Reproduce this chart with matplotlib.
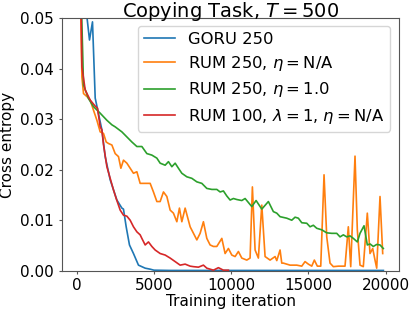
import numpy as np
import matplotlib
matplotlib.use("Agg")
import matplotlib.pyplot as plt

# GORU 250
goru_x = [0, 600, 828, 1022, 1197, 1630, 1843, 2167, 2600, 2924, 3027, 3202, 3415,
          3674, 3997, 4431, 4755, 5000, 6000, 8000, 10000, 12000, 14000, 16000, 18000, 19850]
goru_y = [0.2, 0.052, 0.0457, 0.0493, 0.0342, 0.0279, 0.0226, 0.018, 0.014, 0.0124, 0.0122,
          0.0087, 0.0051, 0.0034, 0.0011, 0.0005, 0.0003, 0.0001, 0.00005, 0.00005, 0.00005,
          0.00005, 0.00005, 0.00005, 0.00005, 0.00005]

# RUM 250, eta = N/A
rum_na_x = [0, 150, 336, 440, 660, 873, 1087, 1307, 1520, 1733, 1908, 2057, 2277, 2490,
            2704, 2859, 3027, 3247, 3460, 3674, 3894, 4107, 4431, 4754, 4967, 5187, 5401,
            5615, 5834, 6048, 6261, 6481, 6649, 6804, 7018, 7341, 7775, 7988, 8201, 8421,
            8634, 8848, 9068, 9392, 9605, 9818, 10038, 10252, 10465, 10685, 11008, 11222,
            11371, 11546, 11759, 11979, 12192, 12516, 12839, 12949, 13162, 13272, 13376,
            13809, 14243, 14566, 14779, 14993, 15213, 15381, 15575, 15795, 16008, 16183,
            16396, 16610, 16933, 17366, 17580, 17735, 18013, 18162, 18337, 18550, 18809,
            18984, 19158, 19307, 19417, 19631, 19805]
rum_na_y = [0.2, 0.07, 0.0384, 0.0351, 0.0345, 0.0338, 0.0318, 0.0298, 0.0275, 0.0272,
            0.0255, 0.0252, 0.0249, 0.0232, 0.0226, 0.0203, 0.0219, 0.0213, 0.0203, 0.0193,
            0.0196, 0.0173, 0.0173, 0.0173, 0.0156, 0.0137, 0.0137, 0.0156, 0.0147, 0.012,
            0.0114, 0.0097, 0.0124, 0.0097, 0.0124, 0.0087, 0.0061, 0.0074, 0.0097, 0.0064,
            0.0051, 0.0048, 0.0048, 0.0064, 0.0034, 0.0044, 0.0031, 0.0028, 0.0038, 0.0025,
            0.0021, 0.0025, 0.0166, 0.0041, 0.0025, 0.013, 0.0028, 0.0021, 0.0028, 0.002,
            0.0041, 0.0015, 0.0015, 0.0011, 0.0011, 0.0009, 0.0018, 0.0013, 0.0009, 0.0021,
            0.0009, 0.0009, 0.019, 0.0067, 0.0015, 0.0008, 0.0009, 0.0009, 0.0087, 0.0008,
            0.0227, 0.0081, 0.0011, 0.0008, 0.0114, 0.0034, 0.0044, 0.0021, 0.0005, 0.0147,
            0.0034]

# RUM 250, eta = 1.0
rum_1_x = [0, 200, 440, 763, 1087, 1520, 1953, 2277, 2490, 2924, 3247, 3570, 3894, 4217,
           4541, 4864, 5187, 5401, 5725, 5938, 6158, 6372, 6584, 6804, 7128, 7451, 7775,
           8098, 8421, 8745, 9068, 9282, 9495, 9715, 9928, 10142, 10362, 10685, 10899,
           11332, 11610, 11979, 12406, 12729, 12949, 13162, 13596, 13919, 14133, 14346,
           14566, 14889, 15103, 15316, 15536, 15860, 16183, 16506, 16830, 17043, 17257,
           17477, 17690, 17904, 18162, 18337, 18596, 18809, 18984, 19197, 19417, 19631, 19844]
rum_1_y = [0.2, 0.065, 0.0368, 0.0341, 0.0325, 0.0312, 0.0298, 0.0289, 0.0285, 0.0275,
           0.0265, 0.0255, 0.0246, 0.0246, 0.0232, 0.0229, 0.0223, 0.0213, 0.0209, 0.0216,
           0.0206, 0.0213, 0.0203, 0.0193, 0.0186, 0.0183, 0.0176, 0.0173, 0.0163, 0.0161,
           0.0161, 0.0156, 0.0158, 0.0148, 0.014, 0.0143, 0.0141, 0.0139, 0.0143, 0.0127,
           0.0139, 0.0122, 0.0137, 0.0117, 0.0114, 0.0107, 0.0104, 0.01, 0.0106, 0.0104,
           0.0095, 0.0094, 0.0087, 0.009, 0.0084, 0.0081, 0.0075, 0.0074, 0.0074, 0.0067,
           0.0071, 0.0067, 0.0069, 0.0064, 0.0057, 0.0074, 0.0089, 0.0051, 0.0053, 0.0048,
           0.0052, 0.0051, 0.0044]

# RUM 100, lambda = 1, eta = N/A
rum_100_x = [0, 200, 336, 550, 873, 1197, 1345, 1520, 1630, 1733, 1953, 2167, 2380, 2555,
             2814, 3027, 3247, 3460, 3674, 3894, 4107, 4217, 4431, 4644, 4864, 5077, 5401,
             5725, 6048, 6372, 6695, 7018, 7342, 7555, 7878, 8201, 8421, 8848, 9172, 9495, 9818]
rum_100_y = [0.2, 0.07, 0.0404, 0.0358, 0.0338, 0.0326, 0.0322, 0.0285, 0.0279, 0.025,
             0.0206, 0.0183, 0.016, 0.0143, 0.012, 0.011, 0.0108, 0.01, 0.0087, 0.0077,
             0.0071, 0.0064, 0.0051, 0.0057, 0.0048, 0.0041, 0.0034, 0.0031, 0.0025, 0.0018,
             0.0011, 0.0013, 0.0009, 0.0008, 0.0007, 0.0011, 0.0005, 0.0001, 0.0006, 0.0001,
             0.0001]

fig = plt.figure(figsize=(4.12, 3.12), dpi=100)
ax = fig.add_axes([0.1498, 0.1324, 0.8194, 0.8089])

lw = 1.2
ax.plot(goru_x, goru_y, color="#1f77b4", lw=lw, label="GORU 250")
ax.plot(rum_na_x, rum_na_y, color="#ff7f0e", lw=lw, label=r"RUM 250, $\eta = $N/A")
ax.plot(rum_1_x, rum_1_y, color="#2ca02c", lw=lw, label=r"RUM 250, $\eta = 1.0$")
ax.plot(rum_100_x, rum_100_y, color="#d62728", lw=lw,
        label=r"RUM 100, $\lambda = 1$, $\eta = $N/A")

ax.set_xlim(-970, 20880)
ax.set_ylim(0, 0.05)
ax.set_xticks([0, 5000, 10000, 15000, 20000])
ax.set_yticks([0.0, 0.01, 0.02, 0.03, 0.04, 0.05])
ax.set_yticklabels(["0.00", "0.01", "0.02", "0.03", "0.04", "0.05"])

for s in ax.spines.values():
    s.set_color("#555555")
    s.set_linewidth(0.8)
ax.tick_params(colors="#555555", labelcolor="black", labelsize=11, length=2.5, pad=3)

ax.set_xlabel("Training iteration", fontsize=11, labelpad=0.5)
ax.set_ylabel("Cross entropy", fontsize=11)
# fixed y so the title sits low, as in the original (descenders touch the frame)
ax.set_title(r"Copying Task, $T = 500$", fontsize=14, y=1.007, pad=0)
ax.legend(loc="upper right", fontsize=11.8, labelspacing=0.45, borderpad=0.35,
          handlelength=1.9, handletextpad=0.8, borderaxespad=0,
          bbox_to_anchor=(390 / 412, 1 - 26 / 312), bbox_transform=fig.transFigure)

fig.savefig("out.png", dpi=100)
